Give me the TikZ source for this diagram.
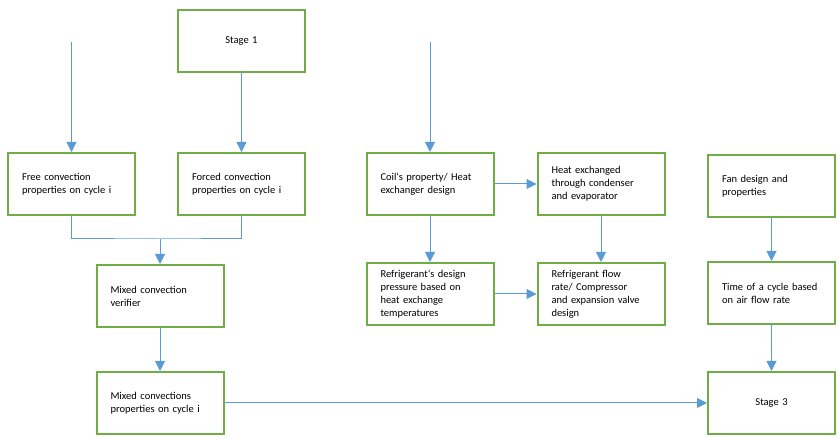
\documentclass[tikz,border=0pt]{standalone}
\usepackage{fontspec}
\setmainfont{Carlito}
\usetikzlibrary{arrows.meta}
\definecolor{boxgreen}{RGB}{112,173,71}
\definecolor{lineblue}{RGB}{91,155,213}
\begin{document}
\begin{tikzpicture}[x=1pt,y=-1pt,
  stepbox/.style={draw=boxgreen, line width=2pt, fill=white, rectangle,
    minimum width=127pt, minimum height=62pt, text width=99pt, inner xsep=14pt,
    align=left, font=\fontsize{10.5}{13}\selectfont},
  stagebox/.style={stepbox, align=center},
  link/.style={draw=lineblue, line width=1pt},
  arr/.style={link, -{Triangle[width=10pt,length=10pt]}}]
\useasboundingbox (0,0) rectangle (839,438);

% left branch
\node[stagebox] (stage1) at (241.5,41) {Stage 1};
\node[stepbox] (free) at (71.5,184) {Free convection\\properties on cycle i};
\node[stepbox] (forced) at (241.5,184) {Forced convection\\properties on cycle i};
\node[stepbox] (verifier) at (160,296) {Mixed convection\\verifier};
\node[stepbox] (mixed) at (160,403) {Mixed convections\\properties on cycle i};

% middle branch
\node[stepbox] (coil) at (430,184) {Coil\symbol{96}s property/ Heat\\exchanger design};
\node[stepbox] (heat) at (601,184) {Heat exchanged\\through condenser\\and evaporator};
\node[stepbox] (refdes) at (430,294) {Refrigerant\symbol{96}s design\\pressure based on\\heat exchange\\temperatures};
\node[stepbox] (refflow) at (601,294) {Refrigerant flow\\rate/ Compressor\\and expansion valve\\design};

% right branch
\node[stepbox] (fan) at (771.5,186) {Fan design and\\properties};
\node[stepbox] (time) at (771.5,293) {Time of a cycle based\\on air flow rate};
\node[stagebox] (stage3) at (771.5,403) {Stage 3};

% free inputs
\coordinate (inFree) at (71.5,42);
\coordinate (inCoil) at (430,42);
\coordinate (merge) at (160,239);

% connectors
\draw[arr] (inFree) -- (free);
\draw[arr] (stage1) -- (forced);
\draw[link] (free.south) |- (merge) -| (forced.south);
\draw[arr] (merge) -- (verifier.north);
\draw[arr] (verifier) -- (mixed);
\draw[arr] (mixed) -- (stage3);

\draw[arr] (inCoil) -- (coil);
\draw[arr] (coil) -- (heat);
\draw[arr] (coil) -- (refdes);
\draw[arr] (heat) -- (refflow);
\draw[arr] (refdes) -- (refflow);

\draw[arr] (fan) -- (time);
\draw[arr] (time) -- (stage3);
\end{tikzpicture}
\end{document}
